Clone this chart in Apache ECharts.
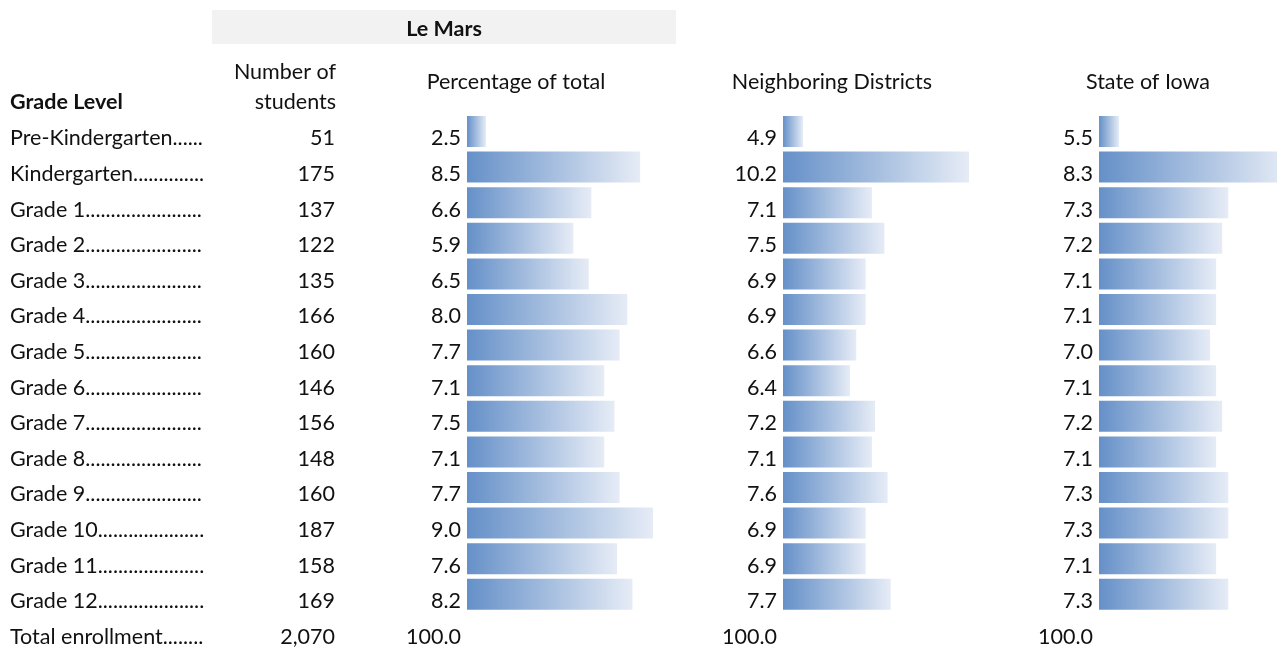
<!DOCTYPE html>
<html>
<head>
<meta charset="utf-8">
<script src="https://cdn.jsdelivr.net/npm/echarts@6/dist/echarts.min.js"></script>
<style>
  html, body { margin: 0; padding: 0; background: #fff; }
  #main { width: 1277px; height: 649px; }
</style>
</head>
<body>
<div id="main"></div>
<script>
// rows of the table
var grades = ['Pre-Kindergarten', 'Kindergarten', 'Grade 1', 'Grade 2', 'Grade 3', 'Grade 4', 'Grade 5',
  'Grade 6', 'Grade 7', 'Grade 8', 'Grade 9', 'Grade 10', 'Grade 11', 'Grade 12', 'Total enrollment'];
var students = ['51', '175', '137', '122', '135', '166', '160', '146', '156', '148', '160', '187', '158', '169', '2,070'];
// percentage of total (last row = total)
var leMars = [2.5, 8.5, 6.6, 5.9, 6.5, 8.0, 7.7, 7.1, 7.5, 7.1, 7.7, 9.0, 7.6, 8.2];
var neighbor = [4.9, 10.2, 7.1, 7.5, 6.9, 6.9, 6.6, 6.4, 7.2, 7.1, 7.6, 6.9, 6.9, 7.7];
var iowa = [5.5, 8.3, 7.3, 7.2, 7.1, 7.1, 7.0, 7.1, 7.2, 7.1, 7.3, 7.3, 7.1, 7.3];
var totalPct = '100.0';

var FONT = 'Lato';
var FS = 21.5;

function pctLabels(arr) {
  return arr.map(function (v) { return v.toFixed(1); }).concat([totalPct]);
}

var barColor = new echarts.graphic.LinearGradient(0, 0, 1, 0, [
  { offset: 0, color: '#6590c8' },
  { offset: 1, color: '#e6ecf6' }
]);

function yCat(gridIndex, labels, opts) {
  var ax = {
    type: 'category', gridIndex: gridIndex, inverse: true, data: labels, position: 'left',
    axisLine: { show: false }, axisTick: { show: false },
    axisLabel: {
      interval: 0, color: '#111', fontFamily: FONT, fontSize: FS,
      margin: 6, verticalAlign: 'top', lineHeight: 14
    }
  };
  if (opts) {
    if (opts.offset != null) ax.offset = opts.offset;
    for (var k in opts.label || {}) ax.axisLabel[k] = opts.label[k];
  }
  return ax;
}

function xVal(gridIndex, min, max) {
  return { type: 'value', gridIndex: gridIndex, min: min, max: max, show: false };
}

function head(text, x, y, align, bold) {
  return {
    type: 'text', x: x, y: y,
    style: {
      text: text, fill: '#111', font: (bold ? 'bold ' : '') + FS + 'px ' + FONT,
      align: align, verticalAlign: 'middle', lineHeight: 30
    }
  };
}

var gridTop = 113.7, gridH = 534;

var chart = echarts.init(document.getElementById('main'));
chart.setOption({
  animation: false,
  graphic: [
    { type: 'rect', shape: { x: 212, y: 10, width: 464, height: 34 }, style: { fill: '#f2f2f2' } },
    head('Le Mars', 444, 29, 'center', true),
    head('Number of\nstudents', 336, 87, 'right', false),
    head('Percentage of total', 516, 82, 'center', false),
    head('Neighboring Districts', 832, 82, 'center', false),
    head('State of Iowa', 1148, 82, 'center', false),
    head('Grade Level', 10, 102, 'left', true)
  ],
  grid: [
    { left: 467, top: gridTop, width: 186, height: gridH, outerBoundsMode: 'none', containLabel: false },
    { left: 783, top: gridTop, width: 186, height: gridH, outerBoundsMode: 'none', containLabel: false },
    { left: 1099, top: gridTop, width: 190, height: gridH, outerBoundsMode: 'none', containLabel: false }
  ],
  xAxis: [xVal(0, 1.76, 9.0), xVal(1, 4.26, 10.2), xVal(2, 5.17, 8.3)],
  yAxis: [
    yCat(0, pctLabels(leMars)),
    yCat(1, pctLabels(neighbor)),
    yCat(2, pctLabels(iowa)),
    yCat(0, students, { offset: 132, label: { margin: 0 } }),
    yCat(0, grades.map(function (g) { return g + '..............................'; }), {
      offset: 457,
      label: { margin: 0, align: 'left', width: 197, overflow: 'truncate', ellipsis: '' }
    })
  ],
  series: [
    { type: 'bar', xAxisIndex: 0, yAxisIndex: 0, data: leMars, barWidth: 31, itemStyle: { color: barColor } },
    { type: 'bar', xAxisIndex: 1, yAxisIndex: 1, data: neighbor, barWidth: 31, itemStyle: { color: barColor } },
    { type: 'bar', xAxisIndex: 2, yAxisIndex: 2, data: iowa, barWidth: 31, itemStyle: { color: barColor } }
  ]
});
</script>
</body>
</html>
